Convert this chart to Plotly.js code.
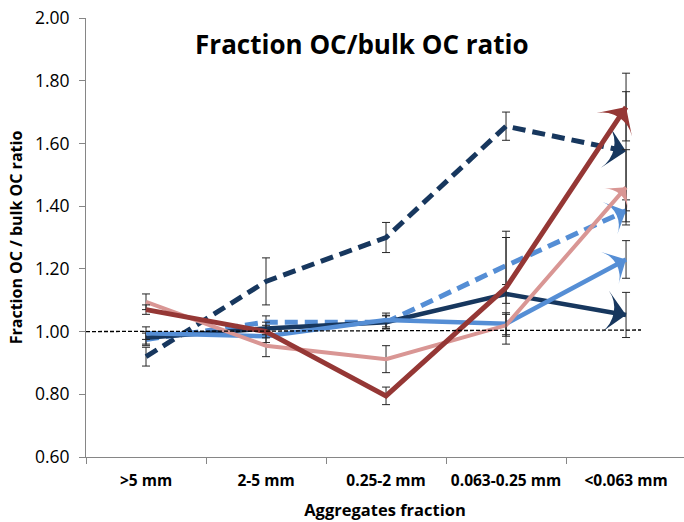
<!DOCTYPE html>
<html>
<head>
<meta charset="utf-8">
<script src="https://cdn.plot.ly/plotly-3.0.1.min.js"></script>
<style>html,body{margin:0;padding:0;background:#fff;}#chart{width:684px;height:522px;}</style>
</head>
<body>
<div id="chart"></div>
<script>
// Categories (aggregate size fractions)
const categories = [">5 mm", "2-5 mm", "0.25-2 mm", "0.063-0.25 mm", "<0.063 mm"];

// Series values (fraction OC / bulk OC ratio) and error bars
const navyDashed      = [0.92, 1.16, 1.30, 1.655, 1.575];
const navyDashedErr   = [0.03, 0.075, 0.048, 0.045, 0.19];
const lightBlueDashed = [0.975, 1.03, 1.03, 1.21, 1.385];
const lightBlueDashedErr = [0.02, 0.02, 0.022, 0.09, 0.035];
const navySolid       = [0.98, 1.01, 1.03, 1.12, 1.053];
const navySolidErr    = [0.02, 0.02, 0.02, 0.03, 0.072];
const lightBlueSolid  = [0.995, 0.985, 1.037, 1.025, 1.23];
const lightBlueSolidErr = [0.02, 0.02, 0.022, 0.035, 0.06];
const pinkSolid       = [1.095, 0.955, 0.912, 1.02, 1.46];
const pinkSolidErr    = [0.025, 0.035, 0.043, 0.035, 0.12];
const redSolid        = [1.07, 1.0, 0.795, 1.14, 1.716];
const redSolidErr     = [0.015, 0.02, 0.028, 0.18, 0.108];

const refValue = 1.0;

function series(y, err, color, dash, width, arrowSize) {
  const n = y.length;
  return {
    type: 'scatter', mode: 'lines+markers', x: categories, y: y,
    line: {color: color, width: width, dash: dash},
    marker: {
      color: color, opacity: 1,
      symbol: y.map((v, i) => i === n - 1 ? 'arrow-wide' : 'circle'),
      size: y.map((v, i) => i === n - 1 ? arrowSize : 0),
      angleref: 'previous',
      line: {width: 0, color: color}
    },
    error_y: {type: 'data', array: err, visible: true, color: '#262626', thickness: 1, width: 4},
    showlegend: false, hoverinfo: 'skip'
  };
}

const data = [
  series(navyDashed, navyDashedErr, '#17375E', '13px,7px', 5, 30),
  series(lightBlueDashed, lightBlueDashedErr, '#558ED5', '13px,7px', 5, 25),
  series(navySolid, navySolidErr, '#17375E', 'solid', 4.5, 30),
  series(lightBlueSolid, lightBlueSolidErr, '#558ED5', 'solid', 4.5, 26),
  series(pinkSolid, pinkSolidErr, '#D99694', 'solid', 4, 22),
  series(redSolid, redSolidErr, '#953735', 'solid', 5, 30)
];

const font = "'Open Sans', 'Liberation Sans', sans-serif";

const layout = {
  width: 684, height: 522,
  margin: {l: 86, r: 0, t: 18, b: 65},
  paper_bgcolor: '#ffffff', plot_bgcolor: '#ffffff',
  font: {family: font, color: '#000000'},
  title: {
    text: '<b>Fraction OC/bulk OC ratio</b>',
    font: {family: font, size: 26, color: '#000'},
    x: 0.529, xref: 'container', xanchor: 'center',
    y: 0.914, yref: 'container', yanchor: 'middle'
  },
  xaxis: {
    type: 'category', categoryorder: 'array', categoryarray: categories,
    range: [-0.5, 4.483],
    showline: true, linecolor: '#868686', linewidth: 1,
    ticks: 'outside', tickson: 'boundaries', ticklen: 6, tickcolor: '#868686',
    showgrid: false, zeroline: false, tickangle: 0,
    tickfont: {family: font, size: 15.5, color: '#000', weight: 'bold'},
    ticklabelstandoff: 9,
    title: {text: '<b>Aggregates fraction</b>', font: {family: font, size: 16.5, color: '#000'}, standoff: 14},
    fixedrange: true
  },
  yaxis: {
    range: [0.6, 2.0], dtick: 0.2, tick0: 0.6, tickformat: '.2f',
    showline: true, linecolor: '#868686', linewidth: 1,
    ticks: 'outside', ticklen: 6, tickcolor: '#868686',
    showgrid: false, zeroline: false,
    tickfont: {family: font, size: 17.5, color: '#000'},
    ticklabelstandoff: 6,
    title: {text: '<b>Fraction OC / bulk OC ratio</b>', font: {family: font, size: 16, color: '#000'}, standoff: 8},
    fixedrange: true
  },
  shapes: [{
    type: 'line', xref: 'x', yref: 'y', layer: 'above',
    x0: -0.5, x1: 4.125, y0: refValue, y1: refValue + 0.005,
    line: {color: '#000', width: 1.3, dash: '4px,2px'}
  }]
};

Plotly.newPlot('chart', data, layout, {displayModeBar: false, staticPlot: true});
</script>
</body>
</html>
